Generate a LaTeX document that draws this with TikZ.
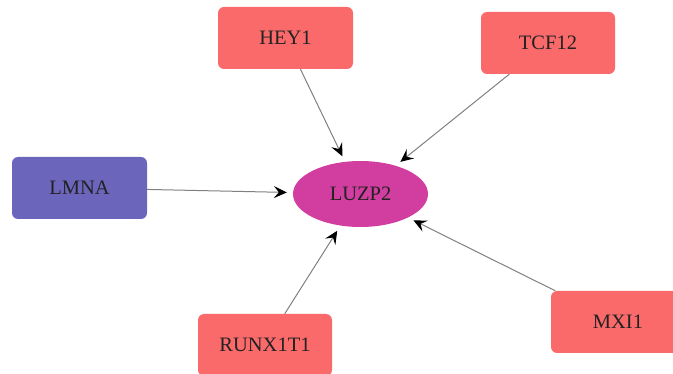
\documentclass[tikz,border=0pt]{standalone}
\usepackage{fontspec}
\setmainfont{Liberation Serif}
\usetikzlibrary{arrows.meta,shapes.geometric}
\definecolor{redbox}{RGB}{250,106,106}
\definecolor{purplebox}{RGB}{107,101,188}
\definecolor{magell}{RGB}{209,62,160}
\definecolor{edgegray}{RGB}{128,128,128}
\definecolor{txt}{RGB}{34,34,34}
\tikzset{
  gene/.style={rectangle, rounded corners=6pt, minimum width=135pt, minimum height=62pt, inner sep=0pt, text=txt, font=\fontsize{20.5}{24}\selectfont},
  redgene/.style={gene, fill=redbox},
  bluegene/.style={gene, fill=purplebox},
  hub/.style={ellipse, fill=magell, minimum width=135pt, minimum height=66pt, inner sep=0pt, text=txt, font=\fontsize{20.5}{24}\selectfont},
  link/.style={draw=edgegray, line width=1pt, -{Stealth[length=13pt,width=12pt,inset=5pt,fill=black,color=black]}, shorten >=6pt}
}
\begin{document}
\begin{tikzpicture}[x=1pt,y=-1pt]
\useasboundingbox (0,0) rectangle (673,374);
\clip (0,0) rectangle (673,374);
\node[hub] (luzp2) at (360.5,194) {LUZP2};
\node[redgene] (hey1) at (285.5,38) {HEY1};
\node[redgene, minimum width=134pt] (tcf12) at (548,43) {TCF12};
\node[bluegene] (lmna) at (79.5,188) {LMNA};
\node[redgene, minimum width=134pt] (runx) at (265,345) {RUNX1T1};
\node[redgene, minimum width=134pt] (mxi1) at (618,322) {MXI1};
\draw[link] (hey1) -- (luzp2);
\draw[link] (tcf12) -- (luzp2);
\draw[link] (lmna) -- (luzp2);
\draw[link] (runx) -- (luzp2);
\draw[link] (mxi1) -- (luzp2);
\end{tikzpicture}
\end{document}
